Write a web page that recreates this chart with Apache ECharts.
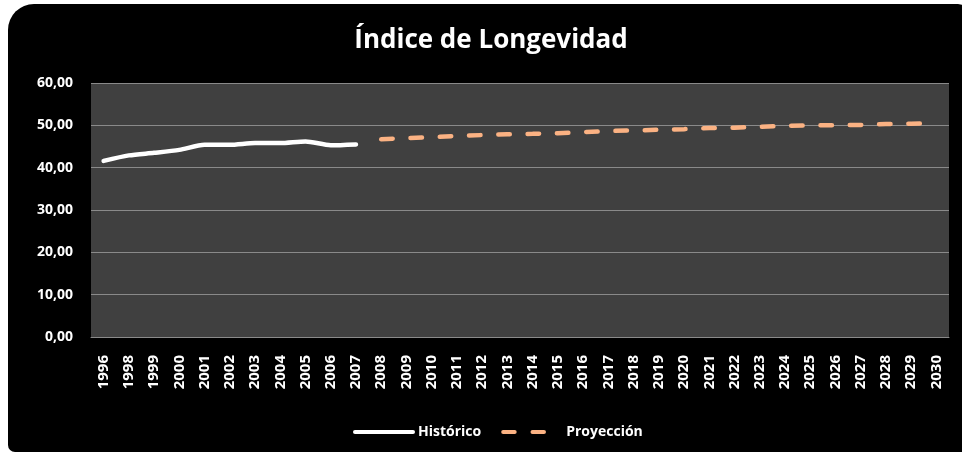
<!DOCTYPE html>
<html>
<head>
<meta charset="utf-8">
<script src="https://cdn.jsdelivr.net/npm/echarts@6/dist/echarts.min.js"></script>
<style>
  html, body { margin: 0; padding: 0; background: #fff; }
  #frame {
    position: absolute; left: 8px; top: 4px; width: 960px; height: 448px;
    background: #000; border-radius: 26px 10px 0 7px;
  }
  #chart { position: absolute; left: 0; top: 0; width: 962px; height: 454px; }
</style>
</head>
<body>
<div id="frame"></div>
<div id="chart"></div>
<script>
const years = ['1996', '1998', '1999', '2000', '2001', '2002', '2003', '2004', '2005', '2006', '2007',
  '2008', '2009', '2010', '2011', '2012', '2013', '2014', '2015', '2016', '2017', '2018', '2019',
  '2020', '2021', '2022', '2023', '2024', '2025', '2026', '2027', '2028', '2029', '2030'];

const historico = [41.6, 42.9, 43.5, 44.2, 45.4, 45.4, 45.8, 45.8, 46.2, 45.3, 45.5,
  null, null, null, null, null, null, null, null, null, null, null, null,
  null, null, null, null, null, null, null, null, null, null, null];

const proyeccion = [null, null, null, null, null, null, null, null, null, null, null,
  46.7, 47.0, 47.2, 47.5, 47.7, 47.9, 48.0, 48.15, 48.4, 48.65, 48.8, 48.95,
  49.1, 49.35, 49.45, 49.65, 49.85, 50.0, 50.05, 50.1, 50.3, 50.4, 50.5];

const yTicks = [0, 60, 10];

const chart = echarts.init(document.getElementById('chart'));
const font = '"Open Sans", "Liberation Sans", sans-serif';

chart.setOption({
  backgroundColor: 'transparent',
  animation: false,
  title: {
    text: 'Índice de Longevidad',
    left: 486,
    textAlign: 'center',
    top: 23,
    textStyle: { color: '#fff', fontFamily: font, fontWeight: 'bold', fontSize: 26 }
  },
  legend: {
    bottom: 10,
    left: 348,
    itemWidth: 58,
    itemHeight: 10,
    itemGap: 20,
    itemStyle: { opacity: 0 },
    lineStyle: { width: 4 },
    textStyle: { color: '#fff', fontFamily: font, fontWeight: 'bold', fontSize: 14 },
    data: ['Histórico', 'Proyección']
  },
  grid: {
    left: 91, right: 13, top: 83, bottom: 117,
    show: true, backgroundColor: '#404040', borderWidth: 0
  },
  xAxis: {
    type: 'category',
    data: years,
    boundaryGap: true,
    axisLine: { lineStyle: { color: '#8a8a8a', width: 1 } },
    axisTick: { show: false },
    axisLabel: {
      rotate: 90, interval: 0, margin: 18,
      color: '#fff', fontFamily: font, fontWeight: 'bold', fontSize: 15
    }
  },
  yAxis: {
    type: 'value',
    min: yTicks[0], max: yTicks[1], interval: yTicks[2],
    axisLine: { show: false },
    axisTick: { show: false },
    splitLine: { lineStyle: { color: '#8a8a8a', width: 1 } },
    axisLabel: {
      margin: 18,
      color: '#fff', fontFamily: font, fontWeight: 'bold', fontSize: 14,
      formatter: v => v.toFixed(2).replace('.', ',')
    }
  },
  series: [
    {
      name: 'Histórico',
      type: 'line',
      data: historico,
      symbol: 'none',
      smooth: 0.25,
      color: '#ffffff',
      lineStyle: { color: '#ffffff', width: 4.5, cap: 'round', join: 'round' }
    },
    {
      name: 'Proyección',
      type: 'line',
      data: proyeccion,
      symbol: 'none',
      color: '#fbb283',
      lineStyle: { color: '#fbb283', width: 4.5, type: [11.5, 17.8], cap: 'round' }
    }
  ]
});
</script>
</body>
</html>
